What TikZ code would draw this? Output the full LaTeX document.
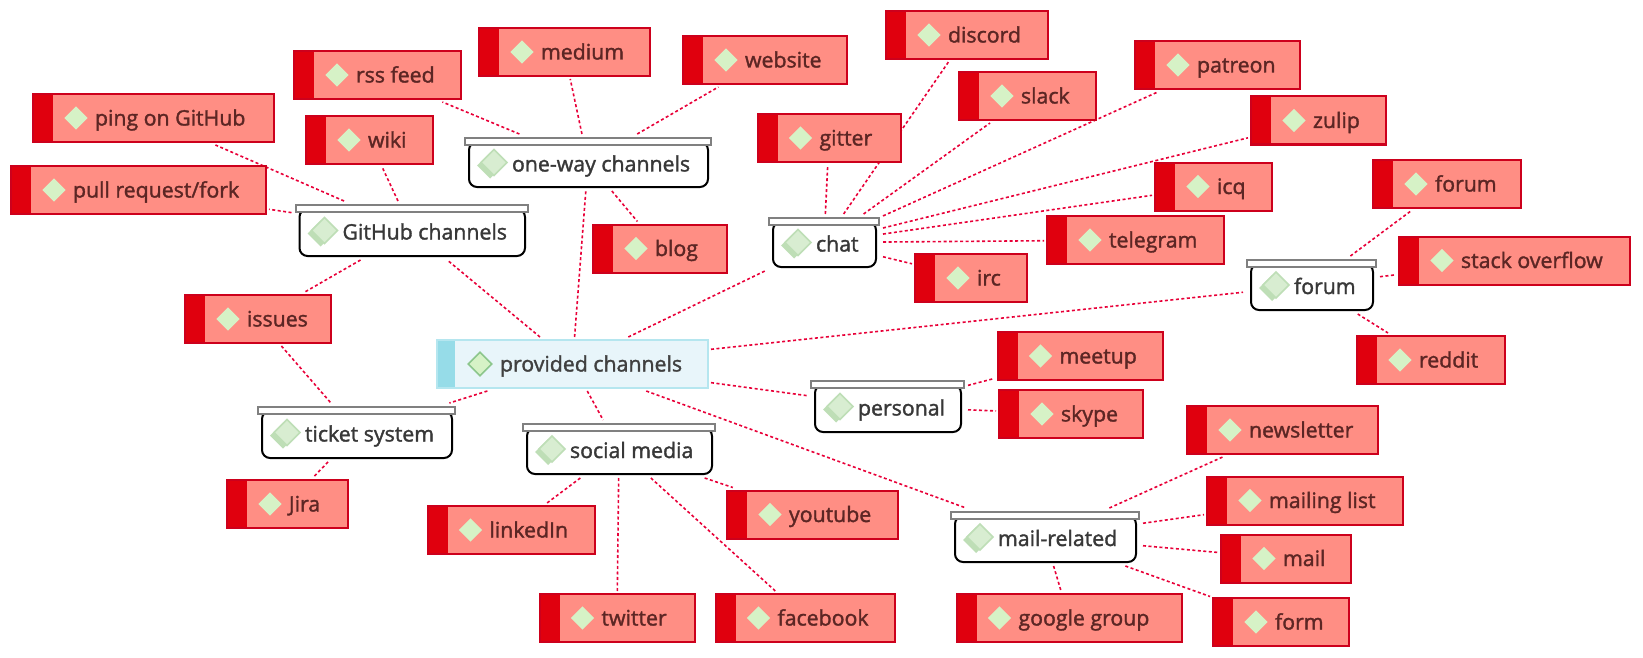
\documentclass[tikz,border=0pt]{standalone}
\usepackage{fontspec}
\setmainfont{Open Sans}[FakeBold=1.6]
\usetikzlibrary{backgrounds}
\definecolor{leafred}{RGB}{224,0,14}
\definecolor{leafedge}{RGB}{205,0,28}
\definecolor{leafbody}{RGB}{255,142,132}
\definecolor{leaftext}{RGB}{92,38,36}
\definecolor{rootband}{RGB}{150,220,232}
\definecolor{rootbody}{RGB}{232,245,250}
\definecolor{linkred}{RGB}{232,0,56}
\definecolor{icongreen}{RGB}{214,242,198}
\definecolor{groupicon}{RGB}{206,232,198}
\definecolor{groupback}{RGB}{190,222,182}
\tikzset{
  diam/.pic={\fill[pic actions] (-13,0) -- (0,-13) -- (13,0) -- (0,13) -- cycle;},
  leaf/.style={rectangle,draw=leafedge,line width=2pt,fill=leafbody,minimum height=48pt,inner xsep=0pt,inner ysep=0pt,outer sep=3pt,
    text=leaftext,font=\fontsize{21.3}{24}\selectfont,text height=18pt,text depth=3pt,
    execute at begin node={\hbox to #1\bgroup\hspace*{62pt}},execute at end node={\hfil\egroup},
    path picture={
      \fill[leafred] (path picture bounding box.north west) rectangle ([xshift=20pt]path picture bounding box.south west);
      \path ([xshift=43pt]path picture bounding box.west) pic[fill=icongreen,scale=.9] {diam};
    }},
  root/.style={rectangle,draw=rootband!70!white,line width=1.5pt,fill=rootbody,minimum height=48pt,inner xsep=0pt,inner ysep=0pt,outer sep=3pt,
    text=black!75,font=\fontsize{21.3}{24}\selectfont,text height=18pt,text depth=3pt,
    execute at begin node={\hbox to #1\bgroup\hspace*{63pt}},execute at end node={\hfil\egroup},
    path picture={
      \fill[rootband] (path picture bounding box.north west) rectangle ([xshift=18pt]path picture bounding box.south west);
      \path ([xshift=43pt]path picture bounding box.west) pic[fill=icongreen,draw=green!50!black!45,line width=1.5pt,scale=.9] {diam};
    }},
  group/.style 2 args={rectangle,minimum height=#2,inner xsep=0pt,inner ysep=0pt,outer sep=3pt,
    text=black!78,font=\fontsize{21.3}{24}\selectfont,text height=20pt,text depth=2pt,
    execute at begin node={\hbox to #1\bgroup\hspace*{48pt}},execute at end node={\hfil\egroup},
    path picture={
      \draw[black,line width=2pt,fill=white,rounded corners=8pt]
        ([xshift=5pt,yshift=-5pt]path picture bounding box.north west) rectangle ([xshift=-4pt,yshift=1pt]path picture bounding box.south east);
      \draw[black!50,line width=2pt,fill=white]
        ([xshift=1pt,yshift=-1pt]path picture bounding box.north west) rectangle ([xshift=-1pt,yshift=-8pt]path picture bounding box.north east);
      \path ([xshift=26pt,yshift=-3pt]path picture bounding box.west) pic[fill=groupback] {diam};
      \path ([xshift=30pt,yshift=0pt]path picture bounding box.west) pic[fill=groupicon!80!white,draw=groupback,line width=1.5pt] {diam};
    }},
  link/.style={draw=linkred,line width=1.6pt,dash pattern=on 3pt off 2.5pt}
}
\begin{document}
\begin{tikzpicture}[x=1pt,y=-1pt]
\useasboundingbox (0,0) rectangle (1643,658);

% root
\node[root=271pt] (provided) at (572.5,364) {provided channels};

% groups
\node[group={248pt}{51pt}] (oneway) at (588,162.5) {one-way channels};
\node[group={234.5pt}{53pt}] (github) at (411.75,230.5) {GitHub channels};
\node[group={112pt}{51pt}] (chat) at (824,242.5) {chat};
\node[group={131pt}{52pt}] (forum) at (1311.5,285) {forum};
\node[group={155pt}{53pt}] (personal) at (887.5,406.5) {personal};
\node[group={199pt}{53pt}] (ticket) at (356.5,432.5) {ticket system};
\node[group={194pt}{52pt}] (social) at (619,449) {social media};
\node[group={190pt}{52pt}] (mailrel) at (1045,537) {mail-related};

% one-way channels
\node[leaf=167pt] (rss) at (377.5,75) {rss feed};
\node[leaf=171pt] (medium) at (564.5,52) {medium};
\node[leaf=164pt] (website) at (765,60) {website};
\node[leaf=134pt] (blog) at (660,248.5) {blog};
% GitHub channels
\node[leaf=241pt] (ping) at (153.5,118) {ping on GitHub};
\node[leaf=255pt] (pull) at (138.5,190) {pull request/fork};
\node[leaf=127pt] (wiki) at (369.5,140) {wiki};
\node[leaf=146pt] (issues) at (258,319) {issues};
% chat
\node[leaf=162pt] (discord) at (967,35) {discord};
\node[leaf=143pt] (gitter) at (829,138) {gitter};
\node[leaf=137pt] (slack) at (1027.5,96) {slack};
\node[leaf=165pt] (patreon) at (1217.5,65) {patreon};
\node[leaf=135pt] (zulip) at (1318.5,120.5) {zulip};
\node[leaf=117pt] (icq) at (1213.5,186.5) {icq};
\node[leaf=177pt] (telegram) at (1135.5,240) {telegram};
\node[leaf=112pt] (irc) at (971,278) {irc};
% forum
\node[leaf=148pt] (forumleaf) at (1447,184) {forum};
\node[leaf=231pt] (stack) at (1514.5,260.5) {stack overflow};
\node[leaf=148pt] (reddit) at (1431,360) {reddit};
% personal
\node[leaf=165pt] (meetup) at (1080,356) {meetup};
\node[leaf=144pt] (skype) at (1071,414) {skype};
% ticket system
\node[leaf=121pt] (jira) at (287.5,504) {Jira};
% social media
\node[leaf=167pt] (linkedin) at (511,530) {linkedIn};
\node[leaf=155pt] (twitter) at (617,618) {twitter};
\node[leaf=179pt] (facebook) at (805,618) {facebook};
\node[leaf=171pt] (youtube) at (812.5,514.5) {youtube};
% mail-related
\node[leaf=191pt] (newsletter) at (1282.5,430) {newsletter};
\node[leaf=196pt] (mailing) at (1305,500.5) {mailing list};
\node[leaf=130pt] (mail) at (1286,558.5) {mail};
\node[leaf=136pt] (form) at (1281,622) {form};
\node[leaf=225pt] (google) at (1069,618) {google group};

% Connection
\begin{pgfonlayer}{background}
\foreach \a/\b in {provided/oneway,provided/github,provided/chat,provided/forum,provided/personal,provided/ticket,provided/social,provided/mailrel,
  oneway/rss,oneway/medium,oneway/website,oneway/blog,
  github/ping,github/pull,github/wiki,github/issues,issues/ticket,
  chat/discord,chat/gitter,chat/slack,chat/patreon,chat/zulip,chat/icq,chat/telegram,chat/irc,
  forum/forumleaf,forum/stack,forum/reddit,personal/meetup,personal/skype,ticket/jira,
  social/linkedin,social/twitter,social/facebook,social/youtube,
  mailrel/newsletter,mailrel/mailing,mailrel/mail,mailrel/form,mailrel/google}
  \draw[link] (\a) -- (\b);
\end{pgfonlayer}
\end{tikzpicture}
\end{document}
